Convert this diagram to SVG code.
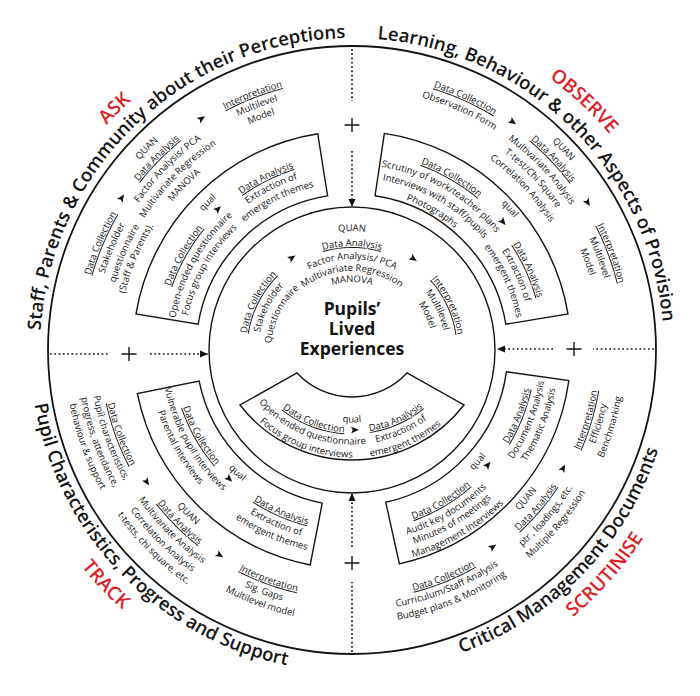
<svg xmlns="http://www.w3.org/2000/svg" width="700" height="696" viewBox="0 0 700 696">
<style>
text{font-family:"Open Sans","Noto Sans","DejaVu Sans",sans-serif;font-size:9.5px;fill:#141414;text-anchor:middle}
.u{text-decoration:underline}
.big{font-size:18.5px;font-weight:600}
.red{font-size:19px;font-weight:600;fill:#dc1f26}
.title{font-size:17.5px;font-weight:700}
.ln{fill:none;stroke:#141414;stroke-width:1.4}
.dot{fill:none;stroke:#141414;stroke-width:1.7;stroke-dasharray:1.7 2.6}
.plus{fill:none;stroke:#141414;stroke-width:1.4}
</style>
<defs>
<marker id="ah" markerUnits="userSpaceOnUse" markerWidth="9" markerHeight="8" refX="8" refY="4" orient="auto"><path d="M0,0.5 L8,4 L0,7.5 Z" fill="#141414"/></marker>
<path id="fa" d="M-3.8,-3.4 L4,0 L-3.8,3.4 L-2.2,0 Z" fill="#141414"/>
<path id="u68" d="M0 68A68 68 0 1 1 0 -68A68 68 0 1 1 0 68"/>
<path id="u79" d="M0 79A79 79 0 1 1 0 -79A79 79 0 1 1 0 79"/>
<path id="u81" d="M0 81A81 81 0 1 1 0 -81A81 81 0 1 1 0 81"/>
<path id="u91" d="M0 91A91 91 0 1 1 0 -91A91 91 0 1 1 0 91"/>
<path id="u93_5" d="M0 93.5A93.5 93.5 0 1 1 0 -93.5A93.5 93.5 0 1 1 0 93.5"/>
<path id="u104" d="M0 104A104 104 0 1 1 0 -104A104 104 0 1 1 0 104"/>
<path id="u106_5" d="M0 106.5A106.5 106.5 0 1 1 0 -106.5A106.5 106.5 0 1 1 0 106.5"/>
<path id="u119" d="M0 119A119 119 0 1 1 0 -119A119 119 0 1 1 0 119"/>
<path id="u159_5" d="M0 159.5A159.5 159.5 0 1 1 0 -159.5A159.5 159.5 0 1 1 0 159.5"/>
<path id="u167_5" d="M0 167.5A167.5 167.5 0 1 1 0 -167.5A167.5 167.5 0 1 1 0 167.5"/>
<path id="u172_5" d="M0 172.5A172.5 172.5 0 1 1 0 -172.5A172.5 172.5 0 1 1 0 172.5"/>
<path id="u179_5" d="M0 179.5A179.5 179.5 0 1 1 0 -179.5A179.5 179.5 0 1 1 0 179.5"/>
<path id="u185_5" d="M0 185.5A185.5 185.5 0 1 1 0 -185.5A185.5 185.5 0 1 1 0 185.5"/>
<path id="u191" d="M0 191A191 191 0 1 1 0 -191A191 191 0 1 1 0 191"/>
<path id="u192_5" d="M0 192.5A192.5 192.5 0 1 1 0 -192.5A192.5 192.5 0 1 1 0 192.5"/>
<path id="u198_5" d="M0 198.5A198.5 198.5 0 1 1 0 -198.5A198.5 198.5 0 1 1 0 198.5"/>
<path id="u203_5" d="M0 203.5A203.5 203.5 0 1 1 0 -203.5A203.5 203.5 0 1 1 0 203.5"/>
<path id="u209" d="M0 209A209 209 0 1 1 0 -209A209 209 0 1 1 0 209"/>
<path id="u233" d="M0 233A233 233 0 1 1 0 -233A233 233 0 1 1 0 233"/>
<path id="u234" d="M0 234A234 234 0 1 1 0 -234A234 234 0 1 1 0 234"/>
<path id="u235_5" d="M0 235.5A235.5 235.5 0 1 1 0 -235.5A235.5 235.5 0 1 1 0 235.5"/>
<path id="u246" d="M0 246A246 246 0 1 1 0 -246A246 246 0 1 1 0 246"/>
<path id="u248" d="M0 248A248 248 0 1 1 0 -248A248 248 0 1 1 0 248"/>
<path id="u249" d="M0 249A249 249 0 1 1 0 -249A249 249 0 1 1 0 249"/>
<path id="u259" d="M0 259A259 259 0 1 1 0 -259A259 259 0 1 1 0 259"/>
<path id="u260" d="M0 260A260 260 0 1 1 0 -260A260 260 0 1 1 0 260"/>
<path id="u262" d="M0 262A262 262 0 1 1 0 -262A262 262 0 1 1 0 262"/>
<path id="u272" d="M0 272A272 272 0 1 1 0 -272A272 272 0 1 1 0 272"/>
<path id="u275" d="M0 275A275 275 0 1 1 0 -275A275 275 0 1 1 0 275"/>
<path id="u276" d="M0 276A276 276 0 1 1 0 -276A276 276 0 1 1 0 276"/>
<path id="u285" d="M0 285A285 285 0 1 1 0 -285A285 285 0 1 1 0 285"/>
<path id="u289" d="M0 289A289 289 0 1 1 0 -289A289 289 0 1 1 0 289"/>
<path id="u312" d="M0 312A312 312 0 1 1 0 -312A312 312 0 1 1 0 312"/>
<path id="u333" d="M0 333A333 333 0 1 1 0 -333A333 333 0 1 1 0 333"/>
<path id="u336" d="M0 336A336 336 0 1 1 0 -336A336 336 0 1 1 0 336"/>
<path id="l102_5" d="M0 -102.5A102.5 102.5 0 1 0 0 102.5A102.5 102.5 0 1 0 0 -102.5"/>
<path id="l112_5" d="M0 -112.5A112.5 112.5 0 1 0 0 112.5A112.5 112.5 0 1 0 0 -112.5"/>
<path id="l124_5" d="M0 -124.5A124.5 124.5 0 1 0 0 124.5A124.5 124.5 0 1 0 0 -124.5"/>
<path id="l137_5" d="M0 -137.5A137.5 137.5 0 1 0 0 137.5A137.5 137.5 0 1 0 0 -137.5"/>
<path id="l171" d="M0 -171A171 171 0 1 0 0 171A171 171 0 1 0 0 -171"/>
<path id="l178_5" d="M0 -178.5A178.5 178.5 0 1 0 0 178.5A178.5 178.5 0 1 0 0 -178.5"/>
<path id="l180" d="M0 -180A180 180 0 1 0 0 180A180 180 0 1 0 0 -180"/>
<path id="l182" d="M0 -182A182 182 0 1 0 0 182A182 182 0 1 0 0 -182"/>
<path id="l191" d="M0 -191A191 191 0 1 0 0 191A191 191 0 1 0 0 -191"/>
<path id="l192_5" d="M0 -192.5A192.5 192.5 0 1 0 0 192.5A192.5 192.5 0 1 0 0 -192.5"/>
<path id="l194_5" d="M0 -194.5A194.5 194.5 0 1 0 0 194.5A194.5 194.5 0 1 0 0 -194.5"/>
<path id="l203_5" d="M0 -203.5A203.5 203.5 0 1 0 0 203.5A203.5 203.5 0 1 0 0 -203.5"/>
<path id="l205" d="M0 -205A205 205 0 1 0 0 205A205 205 0 1 0 0 -205"/>
<path id="l207" d="M0 -207A207 207 0 1 0 0 207A207 207 0 1 0 0 -207"/>
<path id="l216" d="M0 -216A216 216 0 1 0 0 216A216 216 0 1 0 0 -216"/>
<path id="l232" d="M0 -232A232 232 0 1 0 0 232A232 232 0 1 0 0 -232"/>
<path id="l234_5" d="M0 -234.5A234.5 234.5 0 1 0 0 234.5A234.5 234.5 0 1 0 0 -234.5"/>
<path id="l246" d="M0 -246A246 246 0 1 0 0 246A246 246 0 1 0 0 -246"/>
<path id="l247_5" d="M0 -247.5A247.5 247.5 0 1 0 0 247.5A247.5 247.5 0 1 0 0 -247.5"/>
<path id="l248_5" d="M0 -248.5A248.5 248.5 0 1 0 0 248.5A248.5 248.5 0 1 0 0 -248.5"/>
<path id="l250" d="M0 -250A250 250 0 1 0 0 250A250 250 0 1 0 0 -250"/>
<path id="l260" d="M0 -260A260 260 0 1 0 0 260A260 260 0 1 0 0 -260"/>
<path id="l260_5" d="M0 -260.5A260.5 260.5 0 1 0 0 260.5A260.5 260.5 0 1 0 0 -260.5"/>
<path id="l262_5" d="M0 -262.5A262.5 262.5 0 1 0 0 262.5A262.5 262.5 0 1 0 0 -262.5"/>
<path id="l272_5" d="M0 -272.5A272.5 272.5 0 1 0 0 272.5A272.5 272.5 0 1 0 0 -272.5"/>
<path id="l273_5" d="M0 -273.5A273.5 273.5 0 1 0 0 273.5A273.5 273.5 0 1 0 0 -273.5"/>
<path id="l275" d="M0 -275A275 275 0 1 0 0 275A275 275 0 1 0 0 -275"/>
<path id="l286_5" d="M0 -286.5A286.5 286.5 0 1 0 0 286.5A286.5 286.5 0 1 0 0 -286.5"/>
<path id="l287_5" d="M0 -287.5A287.5 287.5 0 1 0 0 287.5A287.5 287.5 0 1 0 0 -287.5"/>
<path id="l322" d="M0 -322A322 322 0 1 0 0 322A322 322 0 1 0 0 -322"/>
<path id="l346_5" d="M0 -346.5A346.5 346.5 0 1 0 0 346.5A346.5 346.5 0 1 0 0 -346.5"/>
</defs>
<rect width="700" height="696" fill="#fff"/>

<g id="rings">
<circle cx="352" cy="350" r="304" class="ln" style="stroke-width:1.8"/>
<circle cx="352" cy="350" r="143" class="ln"/>
</g>

<g id="boxes">
<path id="box-ask" class="ln" d="M136.0,313.85A219,219 0 0 1 317.74,133.70L327.60,195.92A156,156 0 0 0 198.14,324.25Z"/>
<path id="box-observe" class="ln" d="M384.37,133.40A219,219 0 0 1 568.0,313.85L505.86,324.25A156,156 0 0 0 375.06,195.71Z"/>
<path id="box-scrutinise" class="ln" d="M568.87,380.48A219,219 0 0 1 399.40,563.81L385.76,502.30A156,156 0 0 0 506.48,371.71Z"/>
<path id="box-track" class="ln" d="M310.21,564.98A219,219 0 0 1 137.40,393.66L199.13,381.10A156,156 0 0 0 322.23,503.13Z"/>
<path id="box-center-qual" class="ln" d="M240,405A141.5,141.5 0 0 0 464,405L407,373A75,75 0 0 1 297,373Z"/>
</g>

<g id="connectors">
<line class="dot" x1="352" y1="49" x2="352" y2="101"/>
<line class="dot" x1="352" y1="151" x2="352" y2="207" marker-end="url(#ah)"/>
<path class="plus" d="M344.5,125H359.5M352,118V132"/>
<line class="dot" x1="50" y1="354" x2="110" y2="354"/>
<line class="dot" x1="150" y1="354" x2="208" y2="354" marker-end="url(#ah)"/>
<path class="plus" d="M121.5,354H136.5M129,347V361"/>
<line class="dot" x1="654" y1="349" x2="593" y2="349"/>
<line class="dot" x1="553" y1="349" x2="497" y2="349" marker-end="url(#ah)"/>
<path class="plus" d="M566.5,349H581.5M574,342V356"/>
<line class="dot" x1="352" y1="652" x2="352" y2="582"/>
<line class="dot" x1="352" y1="547" x2="352" y2="493" marker-end="url(#ah)"/>
<path class="plus" d="M344.5,563H359.5M352,556V570"/>
</g>

<g transform="translate(352,350)">
<g id="flow-arrows">
<use href="#fa" transform="rotate(-33) translate(0,-110)"/>
<use href="#fa" transform="rotate(34) translate(0,-110)"/>
<use href="#fa" transform="rotate(-56.5) translate(0,-276)"/>
<use href="#fa" transform="rotate(-33) translate(0,-276)"/>
<use href="#fa" transform="rotate(-43.5) translate(0,-194.5)"/>
<use href="#fa" transform="rotate(35.2) translate(0,-279)"/>
<use href="#fa" transform="rotate(58) translate(0,-278)"/>
<use href="#fa" transform="rotate(49.7) translate(0,-198)"/>
<use href="#fa" transform="rotate(57.2) translate(0,244)"/>
<use href="#fa" transform="rotate(32.8) translate(0,244)"/>
<use href="#fa" transform="rotate(43.6) translate(0,178)"/>
<use href="#fa" transform="rotate(-35.6) translate(0,242)"/>
<use href="#fa" transform="rotate(-60.8) translate(0,242)"/>
<use href="#fa" transform="rotate(-49.8) translate(0,178)"/>
<use href="#fa" transform="translate(0,-30) rotate(-1.5) translate(0,110)"/>
</g>

<g id="center-node">
<text class="title" x="0" y="-35">Pupils’</text>
<text class="title" x="0" y="-15">Lived</text>
<text class="title" x="0" y="5">Experiences</text>
<g id="center-quan">
<text><textPath href="#u119" startOffset="50%">QUAN</textPath></text>
<text class="u"><textPath href="#u104" startOffset="50%">Data Analysis</textPath></text>
<text><textPath href="#u91" startOffset="50%">Factor Analysis/ PCA</textPath></text>
<text><textPath href="#u79" startOffset="50%">Multivariate Regression</textPath></text>
<text><textPath href="#u68" startOffset="50%">MANOVA</textPath></text>
</g>
<g id="center-collection" transform="rotate(-63)">
<text class="u"><textPath href="#u106_5" startOffset="50%">Data Collection</textPath></text>
<text><textPath href="#u93_5" startOffset="50%">Stakeholder</textPath></text>
<text><textPath href="#u81" startOffset="50%">Questionnaire</textPath></text>
</g>
<g id="center-interpretation" transform="rotate(65)">
<text class="u"><textPath href="#u106_5" startOffset="50%">Interpretation</textPath></text>
<text><textPath href="#u93_5" startOffset="50%">Multilevel</textPath></text>
<text><textPath href="#u81" startOffset="50%">Model</textPath></text>
</g>
<g id="center-qual" transform="translate(0,-30)">
<g transform="rotate(21)">
<text class="u"><textPath href="#l112_5" startOffset="50%">Data Collection</textPath></text>
<text><textPath href="#l124_5" startOffset="50%">Open-ended questionnaire</textPath></text>
<text><textPath href="#l137_5" startOffset="50%">Focus group interviews</textPath></text>
</g>
<text><textPath href="#l102_5" startOffset="50%">qual</textPath></text>
<g transform="rotate(-24)">
<text class="u"><textPath href="#l112_5" startOffset="50%">Data Analysis</textPath></text>
<text><textPath href="#l124_5" startOffset="50%">Extraction of</textPath></text>
<text><textPath href="#l137_5" startOffset="50%">emergent themes</textPath></text>
</g>
</g>
</g>

<g id="ask">
<g transform="rotate(-67)">
<text class="u"><textPath href="#u272" startOffset="50%">Data Collection</textPath></text>
<text><textPath href="#u259" startOffset="50%">Stakeholder</textPath></text>
<text><textPath href="#u246" startOffset="50%">questionnaire</textPath></text>
<text><textPath href="#u234" startOffset="50%">(Staff &amp; Parents).</textPath></text>
</g>
<g transform="rotate(-45.5)">
<text><textPath href="#u285" startOffset="50%">QUAN</textPath></text>
<text class="u"><textPath href="#u272" startOffset="50%">Data Analysis</textPath></text>
<text><textPath href="#u259" startOffset="50%">Factor Analysis/ PCA</textPath></text>
<text><textPath href="#u246" startOffset="50%">Multivariate Regression</textPath></text>
<text><textPath href="#u233" startOffset="50%">MANOVA</textPath></text>
</g>
<g transform="rotate(-21.3)">
<text class="u"><textPath href="#u272" startOffset="50%">Interpretation</textPath></text>
<text><textPath href="#u260" startOffset="50%">Multilevel</textPath></text>
<text><textPath href="#u248" startOffset="50%">Model</textPath></text>
</g>
<g transform="rotate(-60.7)">
<text class="u"><textPath href="#u192_5" startOffset="50%">Data Collection</textPath></text>
<text><textPath href="#u179_5" startOffset="50%">Open-ended questionnaire</textPath></text>
<text><textPath href="#u167_5" startOffset="50%">Focus group interviews</textPath></text>
</g>
<text transform="rotate(-44.4)"><textPath href="#u203_5" startOffset="50%">qual</textPath></text>
<g transform="rotate(-26.6)">
<text class="u"><textPath href="#u191" startOffset="50%">Data Analysis</textPath></text>
<text><textPath href="#u179_5" startOffset="50%">Extraction of</textPath></text>
<text><textPath href="#u167_5" startOffset="50%">emergent themes</textPath></text>
</g>
<text class="big" transform="rotate(-43.8)"><textPath href="#u312" startOffset="50%">Staff, Parents &amp; Community about their Perceptions</textPath></text>
<text class="red" transform="rotate(-44.5)"><textPath href="#u333" startOffset="50%">ASK</textPath></text>
</g>

<g id="observe">
<g transform="rotate(24.2)">
<text class="u"><textPath href="#u275" startOffset="50%">Data Collection</textPath></text>
<text><textPath href="#u262" startOffset="50%">Observation Form</textPath></text>
</g>
<g transform="rotate(46.5)">
<text><textPath href="#u289" startOffset="50%">QUAN</textPath></text>
<text class="u"><textPath href="#u276" startOffset="50%">Data Analysis</textPath></text>
<text><textPath href="#u262" startOffset="50%">Multivariate Analysis</textPath></text>
<text><textPath href="#u249" startOffset="50%">T-test/Chi Square</textPath></text>
<text><textPath href="#u235_5" startOffset="50%">Correlation Analysis</textPath></text>
</g>
<g transform="rotate(69.5)">
<text class="u"><textPath href="#u275" startOffset="50%">Interpretation</textPath></text>
<text><textPath href="#u262" startOffset="50%">Multilevel</textPath></text>
<text><textPath href="#u249" startOffset="50%">Model</textPath></text>
</g>
<g transform="rotate(30)">
<text class="u"><textPath href="#u198_5" startOffset="50%">Data Collection</textPath></text>
<text><textPath href="#u185_5" startOffset="50%">Scrutiny of work/teacher plans</textPath></text>
<text><textPath href="#u172_5" startOffset="50%">Interviews with staff/pupils</textPath></text>
<text><textPath href="#u159_5" startOffset="50%">Photographs</textPath></text>
</g>
<text transform="rotate(48.2)"><textPath href="#u209" startOffset="50%">qual</textPath></text>
<g transform="rotate(65.5)">
<text class="u"><textPath href="#u192_5" startOffset="50%">Data Analysis</textPath></text>
<text><textPath href="#u179_5" startOffset="50%">Extraction of</textPath></text>
<text><textPath href="#u167_5" startOffset="50%">emergent themes</textPath></text>
</g>
<text class="big" transform="rotate(44.75)"><textPath href="#u312" startOffset="50%">Learning, Behaviour &amp; other Aspects of Provision</textPath></text>
<text class="red" transform="rotate(43)"><textPath href="#u336" startOffset="50%">OBSERVE</textPath></text>
</g>

<g id="track">
<g transform="rotate(70)">
<text class="u"><textPath href="#l250" startOffset="50%">Data Collection</textPath></text>
<text><textPath href="#l262_5" startOffset="50%">Pupil characteristics,</textPath></text>
<text><textPath href="#l275" startOffset="50%">progress, attendance,</textPath></text>
<text><textPath href="#l287_5" startOffset="50%">behaviour &amp; support</textPath></text>
</g>
<g transform="rotate(45)">
<text><textPath href="#l234_5" startOffset="50%">QUAN</textPath></text>
<text class="u"><textPath href="#l247_5" startOffset="50%">Data Analysis</textPath></text>
<text><textPath href="#l260_5" startOffset="50%">Multivariate Analysis</textPath></text>
<text><textPath href="#l273_5" startOffset="50%">Correlation Analysis</textPath></text>
<text><textPath href="#l286_5" startOffset="50%">t-tests, chi square, etc.</textPath></text>
</g>
<g transform="rotate(20)">
<text class="u"><textPath href="#l247_5" startOffset="50%">Interpretation</textPath></text>
<text><textPath href="#l260" startOffset="50%">Sig. Gaps</textPath></text>
<text><textPath href="#l272_5" startOffset="50%">Multilevel model</textPath></text>
</g>
<g transform="rotate(60.5)">
<text class="u"><textPath href="#l178_5" startOffset="50%">Data Collection</textPath></text>
<text><textPath href="#l191" startOffset="50%">Vulnerable pupil interviews</textPath></text>
<text><textPath href="#l203_5" startOffset="50%">Parental interviews</textPath></text>
</g>
<text transform="rotate(43)"><textPath href="#l171" startOffset="50%">qual</textPath></text>
<g transform="rotate(23.7)">
<text class="u"><textPath href="#l180" startOffset="50%">Data Analysis</textPath></text>
<text><textPath href="#l192_5" startOffset="50%">Extraction of</textPath></text>
<text><textPath href="#l205" startOffset="50%">emergent themes</textPath></text>
</g>
<text class="big" transform="rotate(46)"><textPath href="#l322" startOffset="50%">Pupil Characteristics, Progress and Support</textPath></text>
<text class="red" transform="rotate(46.4)"><textPath href="#l346_5" startOffset="50%">TRACK</textPath></text>
</g>

<g id="scrutinise">
<g transform="rotate(-68.3)">
<text class="u"><textPath href="#l182" startOffset="50%">Data Analysis</textPath></text>
<text><textPath href="#l194_5" startOffset="50%">Document Analysis</textPath></text>
<text><textPath href="#l207" startOffset="50%">Thematic Analysis</textPath></text>
</g>
<g transform="rotate(-73.4)">
<text class="u"><textPath href="#l248_5" startOffset="50%">Interpretation</textPath></text>
<text><textPath href="#l260_5" startOffset="50%">Efficiency</textPath></text>
<text><textPath href="#l273_5" startOffset="50%">Benchmarking</textPath></text>
</g>
<g transform="rotate(-30.5)">
<text class="u"><textPath href="#l180" startOffset="50%">Data Collection</textPath></text>
<text><textPath href="#l192_5" startOffset="50%">Audit key documents</textPath></text>
<text><textPath href="#l203_5" startOffset="50%">Minutes of meetings</textPath></text>
<text><textPath href="#l216" startOffset="50%">Management Interviews</textPath></text>
</g>
<g transform="rotate(-49.5)">
<text><textPath href="#l232" startOffset="50%">QUAN</textPath></text>
<text class="u"><textPath href="#l246" startOffset="50%">Data Analysis</textPath></text>
<text><textPath href="#l260" startOffset="50%">ptr , loadings, etc.</textPath></text>
<text><textPath href="#l273_5" startOffset="50%">Multiple Regression</textPath></text>
</g>
<g transform="rotate(-22)">
<text class="u"><textPath href="#l248_5" startOffset="50%">Data Collection</textPath></text>
<text><textPath href="#l260_5" startOffset="50%">Curriculum/Staff Analysis</textPath></text>
<text><textPath href="#l273_5" startOffset="50%">Budget plans &amp; Monitoring</textPath></text>
</g>
<text transform="rotate(-48.4)"><textPath href="#l171" startOffset="50%">qual</textPath></text>
<text class="big" transform="rotate(-45.9)"><textPath href="#l322" startOffset="50%">Critical Management Documents</textPath></text>
<text class="red" transform="rotate(-48.4)"><textPath href="#l346_5" startOffset="50%">SCRUTINISE</textPath></text>
</g>
</g>
</svg>
